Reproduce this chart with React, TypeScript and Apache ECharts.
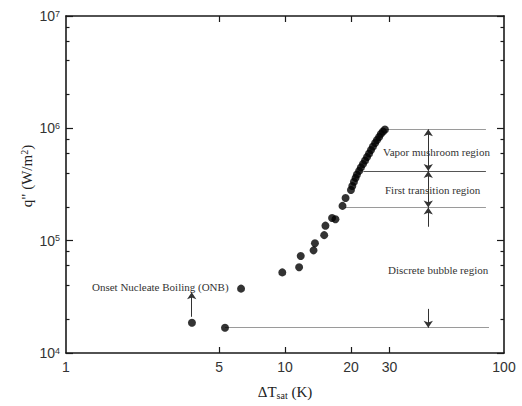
import React, { useEffect, useRef } from "react";
import * as echarts from "echarts";

// ΔT_sat (K) and heat flux q'' (W/m²)
const DT_SAT = [3.76, 5.32, 6.3, 9.72, 11.6, 11.8, 13.5, 13.7, 15.1, 15.3, 16.4, 17.0, 18.3, 18.9, 20.0, 20.3, 20.65, 21.0, 21.3, 21.8, 22.2, 22.7, 23.2, 23.7, 24.2, 24.7, 25.2, 25.8, 26.3, 26.9, 27.4, 28.0, 28.6];
const HEAT_FLUX = [1.86e4, 1.68e4, 3.74e4, 5.22e4, 5.8e4, 7.3e4, 8.2e4, 9.5e4, 1.12e5, 1.36e5, 1.59e5, 1.55e5, 2.04e5, 2.4e5, 2.83e5, 3.07e5, 3.34e5, 3.62e5, 3.88e5, 4.18e5, 4.49e5, 4.82e5, 5.18e5, 5.56e5, 5.97e5, 6.42e5, 6.9e5, 7.41e5, 7.88e5, 8.38e5, 8.92e5, 9.38e5, 9.77e5];

// axis ticks / labels
const X_TICK_VALUES = [5, 10, 20, 30];
const X_LABEL_VALUES = [1, 5, 10, 20, 30, 100];
const Y_DECADES = [4, 5, 6, 7];
const Y_MINOR_FACTORS = [2, 4, 6, 8];

// region boundary lines
const BOUNDARY_Q = [9.8e5, 4.18e5, 1.97e5, 1.68e4];
const BOUNDARY_START = [28.6, 22.8, 18.8, 5.32];
const BOUNDARY_END = [82.7, 82.7, 82.7, 85.4];
const BOUNDARY_COLORS = ["#9a9a9a", "#555555", "#9a9a9a", "#9a9a9a"];

// region arrows (vertical, at one ΔT)
const ARROW_DT = 45.1;
const ARROW_FROM = [9.8e5, 4.18e5, 1.33e5, 2.47e4];
const ARROW_TO = [4.18e5, 1.97e5, 1.97e5, 1.68e4];
const ARROW_BOTH = [true, true, false, false];

// ONB arrow
const ONB_DT = 3.75;
const ONB_FROM = 2.1e4;
const ONB_TO = 3.47e4;

const REGION_LABELS = ["Vapor mushroom region", "First transition region", "Discrete bubble region"];
const ONB_LABEL = "Onset Nucleate Boiling (ONB)";

const SERIF = "'Liberation Serif', 'Times New Roman', serif";
const SANS = "'Liberation Sans', Arial, sans-serif";
const AXIS_COLOR = "#1a1a1a";

export default function App() {
  const ref = useRef<HTMLDivElement>(null);

  useEffect(() => {
    if (!ref.current) return;
    const chart = echarts.init(ref.current, null, { renderer: "svg" });

    const yMinor: number[] = [];
    Y_DECADES.slice(0, -1).forEach((d) => Y_MINOR_FACTORS.forEach((f) => yMinor.push(d + Math.log10(f))));

    const xAux = (position: "bottom" | "top", labels: boolean) => ({
      type: "value",
      min: 0,
      max: 2,
      position,
      axisLine: { show: true, onZero: false, lineStyle: { color: AXIS_COLOR, width: 1.6 } },
      axisTick: {
        show: true,
        inside: true,
        length: 6,
        customValues: X_TICK_VALUES.map((v) => Math.log10(v)),
        lineStyle: { color: AXIS_COLOR, width: 1.2 },
      },
      axisLabel: {
        show: labels,
        customValues: X_LABEL_VALUES.map((v) => Math.log10(v)),
        formatter: (v: number) => String(Math.round(Math.pow(10, v))),
        fontFamily: SANS,
        fontSize: 14,
        color: "#333",
        margin: 7,
      },
      splitLine: { show: false },
    });

    const yAux = (position: "left" | "right", major: boolean) => ({
      type: "value",
      min: 4,
      max: 7,
      position,
      axisLine: { show: major, onZero: false, lineStyle: { color: AXIS_COLOR, width: 1.6 } },
      axisTick: {
        show: true,
        inside: true,
        length: major ? 7 : 3.5,
        customValues: major ? Y_DECADES : yMinor,
        lineStyle: { color: AXIS_COLOR, width: 1.2 },
      },
      axisLabel: {
        show: major && position === "left",
        customValues: Y_DECADES,
        formatter: (v: number) => `{b|10}{s|${v}}`,
        margin: 6,
        rich: {
          b: { fontFamily: SANS, fontSize: 14, color: "#333" },
          s: { fontFamily: SANS, fontSize: 9, color: "#333", verticalAlign: "top" },
        },
      },
      splitLine: { show: false },
    });

    const boundaryLines = BOUNDARY_Q.map((q, i) => [
      { coord: [BOUNDARY_START[i], q], symbol: "none" },
      { coord: [BOUNDARY_END[i], q], symbol: "none", lineStyle: { color: BOUNDARY_COLORS[i], width: 1, type: "solid" } },
    ]);
    const arrowLines = ARROW_FROM.map((q, i) => [
      { coord: [ARROW_DT, q], symbol: ARROW_BOTH[i] ? "arrow" : "none" },
      { coord: [ARROW_DT, ARROW_TO[i]], symbol: "arrow", lineStyle: { color: "#333", width: 1, type: "solid" } },
    ]);
    const onbArrow = [
      { coord: [ONB_DT, ONB_FROM], symbol: "none" },
      { coord: [ONB_DT, ONB_TO], symbol: "arrow", lineStyle: { color: "#333", width: 1, type: "solid" } },
    ];

    const option: any = {
      animation: false,
      backgroundColor: "#ffffff",
      grid: { left: 66, top: 16, right: 18, bottom: 53, containLabel: false, outerBoundsMode: "none" },
      xAxis: [
        { type: "log", logBase: 10, min: 1, max: 100, show: false },
        xAux("bottom", true),
        xAux("top", false),
      ],
      yAxis: [
        { type: "log", logBase: 10, min: 1e4, max: 1e7, show: false },
        yAux("left", true),
        yAux("left", false),
        yAux("right", true),
        yAux("right", false),
      ],
      series: [
        {
          type: "scatter",
          xAxisIndex: 0,
          yAxisIndex: 0,
          symbol: "circle",
          symbolSize: 8,
          itemStyle: { color: "#000" },
          data: DT_SAT.map((x, i) => [x, HEAT_FLUX[i]]),
          z: 5,
          markLine: {
            silent: true,
            animation: false,
            symbolSize: 7,
            label: { show: false },
            lineStyle: { color: "#333", width: 1, type: "solid" },
            itemStyle: { color: "#111" },
            data: [...boundaryLines, ...arrowLines, onbArrow],
          },
        },
      ],
      graphic: [
        {
          type: "text",
          x: 285,
          y: 392,
          style: {
            text: "{a|ΔT}{s|sat}{a| (K)}",
            align: "center",
            verticalAlign: "middle",
            rich: {
              a: { fontFamily: SERIF, fontSize: 15, fill: "#222", color: "#222" },
              s: { fontFamily: SERIF, fontSize: 10, fill: "#222", color: "#222", verticalAlign: "bottom", padding: [6, 0, 0, 0] },
            },
          },
        },
        {
          type: "text",
          x: 27,
          y: 176,
          rotation: Math.PI / 2,
          style: {
            text: '{a|q" (W/m}{s|2}{a|)}',
            align: "center",
            verticalAlign: "middle",
            rich: {
              a: { fontFamily: SERIF, fontSize: 15, fill: "#222", color: "#222" },
              s: { fontFamily: SERIF, fontSize: 10, fill: "#222", color: "#222", verticalAlign: "top" },
            },
          },
        },
        { type: "text", x: 383, y: 152, style: { text: REGION_LABELS[0], font: `11px ${SERIF}`, fill: "#333", verticalAlign: "middle" } },
        { type: "text", x: 385, y: 190, style: { text: REGION_LABELS[1], font: `11px ${SERIF}`, fill: "#333", verticalAlign: "middle" } },
        { type: "text", x: 388, y: 270, style: { text: REGION_LABELS[2], font: `11px ${SERIF}`, fill: "#333", verticalAlign: "middle" } },
        { type: "text", x: 92, y: 287, style: { text: ONB_LABEL, font: `11px ${SERIF}`, fill: "#333", verticalAlign: "middle" } },
      ],
    };

    chart.setOption(option);
    return () => chart.dispose();
  }, []);

  return (
    <div
      ref={ref}
      style={{ position: "fixed", left: 0, top: 0, width: 522, height: 406, background: "#fff" }}
    />
  );
}
